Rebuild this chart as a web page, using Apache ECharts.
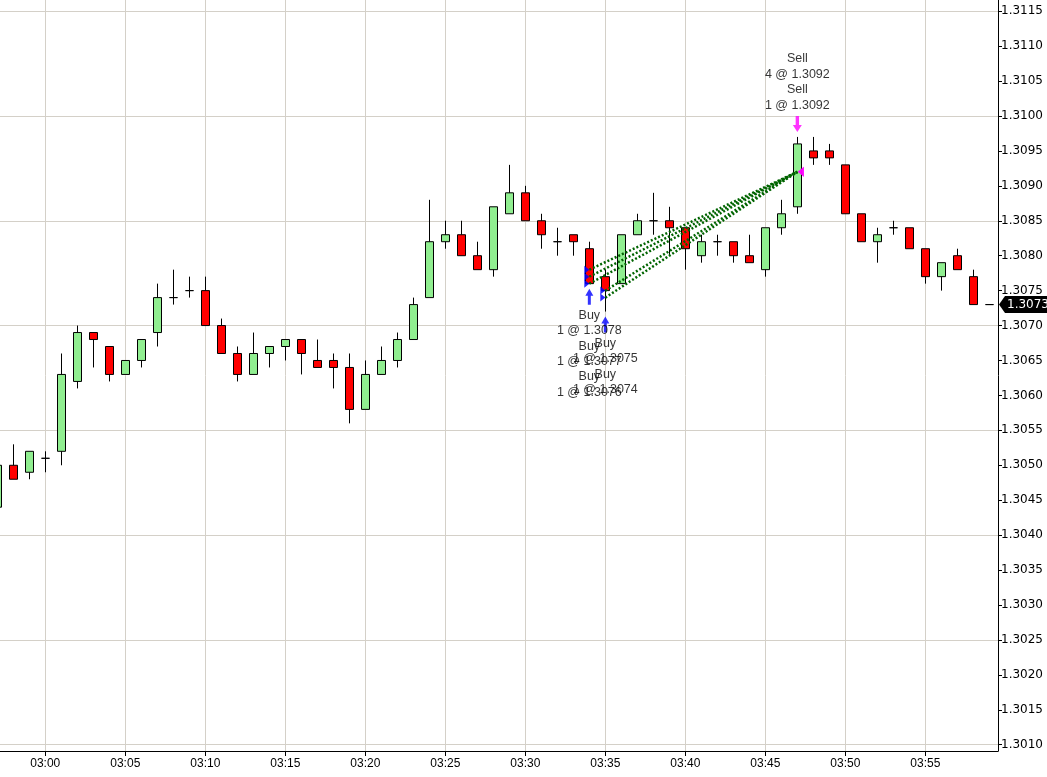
<!DOCTYPE html>
<html><head><meta charset="utf-8">
<script src="https://cdn.jsdelivr.net/npm/echarts@6/dist/echarts.min.js"></script>
<style>html,body{margin:0;padding:0;background:#fff;overflow:hidden}#c{width:1047px;height:777px}</style>
</head><body><div id="c"></div>
<script>
// ---- data ----
const times = ['02:57','02:58','02:59','03:00','03:01','03:02','03:03','03:04','03:05','03:06','03:07','03:08','03:09',
  '03:10','03:11','03:12','03:13','03:14','03:15','03:16','03:17','03:18','03:19','03:20','03:21','03:22','03:23','03:24',
  '03:25','03:26','03:27','03:28','03:29','03:30','03:31','03:32','03:33','03:34','03:35','03:36','03:37','03:38','03:39',
  '03:40','03:41','03:42','03:43','03:44','03:45','03:46','03:47','03:48','03:49','03:50','03:51','03:52','03:53','03:54',
  '03:55','03:56','03:57','03:58','03:59'];
const opens = [1.3044,1.3050,1.3049,1.3051,1.3052,1.3062,1.3069,1.3067,1.3063,1.3065,1.3069,1.3074,1.3075,
  1.3075,1.3070,1.3066,1.3063,1.3066,1.3067,1.3068,1.3065,1.3065,1.3064,1.3058,1.3063,1.3065,1.3068,1.3074,
  1.3082,1.3083,1.3080,1.3078,1.3086,1.3089,1.3085,1.3082,1.3083,1.3081,1.3077,1.3076,1.3083,1.3085,1.3085,
  1.3084,1.3080,1.3082,1.3082,1.3080,1.3078,1.3084,1.3087,1.3095,1.3095,1.3093,1.3086,1.3082,1.3084,1.3084,
  1.3081,1.3077,1.3080,1.3077,1.3073];
const closes = [1.3050,1.3048,1.3052,1.3051,1.3063,1.3069,1.3068,1.3063,1.3065,1.3068,1.3074,1.3074,1.3075,
  1.3070,1.3066,1.3063,1.3066,1.3067,1.3068,1.3066,1.3064,1.3064,1.3058,1.3063,1.3065,1.3068,1.3073,1.3082,
  1.3083,1.3080,1.3078,1.3087,1.3089,1.3085,1.3083,1.3082,1.3082,1.3076,1.3075,1.3083,1.3085,1.3085,1.3084,
  1.3081,1.3082,1.3082,1.3080,1.3079,1.3084,1.3086,1.3096,1.3094,1.3094,1.3086,1.3082,1.3083,1.3084,1.3081,
  1.3077,1.3079,1.3078,1.3073,1.3073];
const lows = [1.3043,1.3048,1.3048,1.3049,1.3050,1.3061,1.3064,1.3062,1.3063,1.3064,1.3067,1.3073,1.3074,
  1.3070,1.3066,1.3062,1.3063,1.3064,1.3065,1.3063,1.3064,1.3061,1.3056,1.3058,1.3063,1.3064,1.3068,1.3074,
  1.3081,1.3080,1.3078,1.3077,1.3086,1.3085,1.3081,1.3080,1.3080,1.3076,1.3072,1.3076,1.3083,1.3083,1.3080,
  1.3078,1.3079,1.3080,1.3079,1.3079,1.3077,1.3083,1.3086,1.3093,1.3093,1.3086,1.3082,1.3079,1.3083,1.3081,
  1.3076,1.3075,1.3078,1.3073,1.3073];
const highs = [1.3050,1.3053,1.3052,1.3052,1.3066,1.3070,1.3069,1.3067,1.3065,1.3068,1.3076,1.3078,1.3077,
  1.3077,1.3071,1.3067,1.3069,1.3067,1.3068,1.3068,1.3068,1.3066,1.3066,1.3065,1.3067,1.3069,1.3074,1.3088,
  1.3085,1.3085,1.3082,1.3087,1.3093,1.3090,1.3086,1.3084,1.3083,1.3082,1.3078,1.3083,1.3086,1.3089,1.3087,
  1.3084,1.3083,1.3083,1.3082,1.3083,1.3084,1.3088,1.3097,1.3097,1.3096,1.3093,1.3086,1.3084,1.3085,1.3084,
  1.3081,1.3079,1.3081,1.3078,1.3073];

const xTickLabels = ['03:00','03:05','03:10','03:15','03:20','03:25','03:30','03:35','03:40','03:45','03:50','03:55'];
const yTickValues = [1.3010,1.3015,1.3020,1.3025,1.3030,1.3035,1.3040,1.3045,1.3050,1.3055,1.3060,1.3065,
  1.3070,1.3075,1.3080,1.3085,1.3090,1.3095,1.3100,1.3105,1.3110,1.3115];
const yGridValues = [1.3010,1.3025,1.3040,1.3055,1.3070,1.3085,1.3100,1.3115];

const buyTimes = ['03:34','03:34','03:34','03:35','03:35'];
const buyQty = [1,1,1,1,1];
const buyPrices = [1.3078,1.3077,1.3076,1.3075,1.3074];
const sellTimes = ['03:47','03:47'];
const sellQty = [4,1];
const sellPrices = [1.3092,1.3092];

// ---- axis extents ----
const X_MIN = -2.83, X_MAX = 59.54;
const Y_MIN = 1.30091, Y_MAX = 1.31166;

// ---- helpers ----
function toMin(s){ const p = s.split(':').map(Number); return (p[0]-3)*60 + p[1]; }
const candles = times.map((t,i)=>[toMin(t), opens[i], closes[i], lows[i], highs[i]]);
const xTickValues = xTickLabels.map(toMin);

function groupFills(ts, qty, prices, word){
  const groups = [];
  ts.forEach((t,i)=>{
    let g = groups.find(g=>g.t===t);
    if(!g){ g = {t:t, lines:[]}; groups.push(g); }
    g.lines.push(word, qty[i] + ' @ ' + prices[i].toFixed(4));
  });
  return groups;
}
const buyGroups = groupFills(buyTimes, buyQty, buyPrices, 'Buy');
const sellGroups = groupFills(sellTimes, sellQty, sellPrices, 'Sell');

const FONT = 'Liberation Sans, Arial, sans-serif';
const GRID_COLOR = '#d4d0c8';

const chart = echarts.init(document.getElementById('c'), null, {renderer:'canvas'});
const lastClose = closes[closes.length-1];

const tradeLines = buyTimes.map((t,i)=>[
  {coord:[toMin(t), buyPrices[i]]},
  {coord:[toMin(sellTimes[0]), sellPrices[0]]}
]);

chart.setOption({
  animation:false,
  backgroundColor:'#fff',
  grid:{left:0, right:49, top:0, bottom:26, containLabel:false, outerBoundsMode:'none'},
  xAxis:{
    type:'value', min:X_MIN, max:X_MAX,
    axisLine:{show:true, onZero:false, lineStyle:{color:'#000', width:1}},
    axisTick:{show:true, customValues:xTickValues, length:5, lineStyle:{color:'#000'}},
    axisLabel:{customValues:xTickValues, margin:7, color:'#000', fontSize:12, fontFamily:FONT,
      formatter:v=>xTickLabels[xTickValues.indexOf(Math.round(v))] || ''},
    splitLine:{show:true, lineStyle:{color:GRID_COLOR, width:1}}
  },
  yAxis:[{
    type:'value', position:'right', min:Y_MIN, max:Y_MAX,
    axisLine:{show:true, onZero:false, lineStyle:{color:'#000', width:1}},
    axisTick:{show:true, customValues:yTickValues, length:4, lineStyle:{color:'#000'}},
    axisLabel:{customValues:yTickValues, margin:3, color:'#000', fontSize:12, fontFamily:'DejaVu Sans, sans-serif',
      formatter:v=>v.toFixed(4)},
    splitLine:{show:false}
  },{
    type:'value', position:'right', min:Y_MIN, max:Y_MAX,
    axisLine:{show:false, onZero:false},
    axisTick:{show:false, customValues:yGridValues},
    axisLabel:{show:false, customValues:yGridValues},
    splitLine:{show:true, lineStyle:{color:GRID_COLOR, width:1}}
  }],
  series:[{
    name:'Price', type:'candlestick', yAxisIndex:0, data:candles, barWidth:9,
    itemStyle:{color:'#90EE90', color0:'#FF0000', borderColor:'#000', borderColor0:'#000', borderColorDoji:'#000', borderWidth:1},
    markPoint:{
      silent:true,
      data:[{coord:[X_MAX, lastClose], value:lastClose}],
      symbol:'path://M0,8.5L6,0L48,0L48,17L6,17Z', symbolSize:[48,17], symbolKeepAspect:false, symbolOffset:[25,0],
      itemStyle:{color:'#000'},
      label:{show:true, position:'inside', offset:[5,0], color:'#fff', fontSize:12, fontFamily:'DejaVu Sans, sans-serif',
        formatter:p=>Number(p.value).toFixed(4)}
    }
  },{
    name:'BuyArrow', type:'scatter', yAxisIndex:0, z:5, silent:true,
    data:buyGroups.map(g=>[toMin(g.t), lows[times.indexOf(g.t)]]),
    symbol:'path://M4,0L8,7L5.5,7L5.5,16L2.5,16L2.5,7L0,7Z', symbolSize:[8,16], symbolKeepAspect:false, symbolOffset:[0,13],
    itemStyle:{color:'#0000ff'},
    label:{show:true, position:'bottom', distance:3, color:'#000', fontSize:12.5, fontFamily:FONT, lineHeight:15.4, align:'center',
      formatter:p=>buyGroups[p.dataIndex].lines.join('\n')}
  },{
    name:'SellArrow', type:'scatter', yAxisIndex:0, z:5, silent:true,
    data:sellGroups.map(g=>[toMin(g.t), highs[times.indexOf(g.t)]]),
    symbol:'path://M2.5,0L5.5,0L5.5,9L8,9L4,16L0,9L2.5,9Z', symbolSize:[9,16], symbolKeepAspect:false, symbolOffset:[0,-13],
    itemStyle:{color:'#ff00ff'},
    label:{show:true, position:'top', distance:3, color:'#000', fontSize:12.5, fontFamily:FONT, lineHeight:15.4, align:'center',
      formatter:p=>sellGroups[p.dataIndex].lines.join('\n')}
  },{
    name:'Entries', type:'scatter', yAxisIndex:0, z:6, silent:true,
    data:buyTimes.map((t,i)=>[toMin(t), buyPrices[i]]),
    symbol:'path://M0,0L5,4L0,8Z', symbolSize:[5,8], symbolKeepAspect:false, symbolOffset:[-2.5,0],
    itemStyle:{color:'#0000ff', opacity:0.85},
    markLine:{
      silent:true, symbol:['none','none'], label:{show:false},
      lineStyle:{color:'#006400', width:2.5, type:[2,2]},
      data:tradeLines
    }
  },{
    name:'Exits', type:'scatter', yAxisIndex:0, z:7, silent:true,
    data:sellTimes.map((t,i)=>[toMin(t), sellPrices[i]]),
    symbol:'path://M6,0L0,5L6,10Z', symbolSize:[6,10], symbolKeepAspect:false, symbolOffset:[3.5,0],
    itemStyle:{color:'#ff00ff'}
  }]
});
</script>
</body></html>
